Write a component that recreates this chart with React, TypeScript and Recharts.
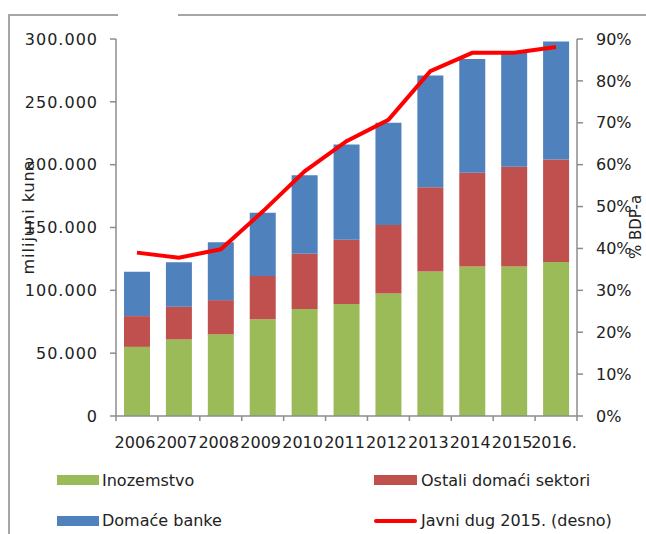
import React from 'react';
import { ComposedChart, Bar, Line, XAxis, YAxis } from 'recharts';

const years = ['2006', '2007', '2008', '2009', '2010', '2011', '2012', '2013', '2014', '2015', '2016.'];
const inozemstvo = [55000, 61000, 65000, 77000, 85200, 89200, 97500, 115000, 119000, 119000, 122500];
const ostaliDomaci = [24500, 26000, 27200, 34500, 43900, 51100, 54500, 67000, 74500, 79300, 81700];
const domaceBanke = [35300, 35300, 46100, 50300, 62500, 75800, 81400, 89000, 90500, 91700, 93800];
const javniDug = [39.0, 37.8, 39.8, 48.8, 58.4, 65.6, 70.7, 82.3, 86.7, 86.7, 88.1];
const leftTicks = [0, 50000, 100000, 150000, 200000, 250000, 300000];
const rightTicks = [0, 10, 20, 30, 40, 50, 60, 70, 80, 90];

const seriesNames = {
  ino: 'Inozemstvo',
  ost: 'Ostali domaći sektori',
  ban: 'Domaće banke',
  dug: 'Javni dug 2015. (desno)',
};

const data = years.map((y, i) => ({
  year: y,
  ino: inozemstvo[i],
  ost: ostaliDomaci[i],
  ban: domaceBanke[i],
  dug: javniDug[i],
}));

const FONT = '"DejaVu Sans", sans-serif';
const TEXT = '#222222';
const AXIS = '#8c8c8c';
const GREEN = '#9BBB59';
const RED = '#C0504D';
const BLUE = '#4F81BD';
const LINE = '#FF0000';

const fmtThousands = (n: number) =>
  n === 0 ? '0' : String(n).replace(/\B(?=(\d{3})+(?!\d))/g, '.');

const XTick = (props: any) => {
  const { x, y, payload, index } = props;
  const half = payload && payload.offset ? payload.offset : 20.95;
  return (
    <g>
      <line x1={x - half} y1={y} x2={x - half} y2={y + 5} stroke={AXIS} strokeWidth={1.5} />
      {index === years.length - 1 && (
        <line x1={x + half} y1={y} x2={x + half} y2={y + 5} stroke={AXIS} strokeWidth={1.5} />
      )}
      <text
        x={x - 2}
        y={y + 26}
        textAnchor="middle"
        dominantBaseline="central"
        fontFamily={FONT}
        fontSize={16}
        fill={TEXT}
      >
        {payload.value}
      </text>
    </g>
  );
};

const LeftLabel = () => (
  <text
    x={28}
    y={217}
    transform="rotate(-90 28 217)"
    textAnchor="middle"
    dominantBaseline="central"
    fontFamily={FONT}
    fontSize={16}
    letterSpacing={1}
    fill={TEXT}
  >
    milijuni kuna
  </text>
);

const RightLabel = () => (
  <text
    x={636}
    y={227}
    transform="rotate(-90 636 227)"
    textAnchor="middle"
    dominantBaseline="central"
    fontFamily={FONT}
    fontSize={15}
    fill={TEXT}
  >
    % BDP-a
  </text>
);

const legendText: React.CSSProperties = {
  position: 'absolute',
  fontFamily: FONT,
  fontSize: 16,
  color: TEXT,
  lineHeight: '20px',
  whiteSpace: 'nowrap',
};

export default function App() {
  return (
    <div
      style={{
        position: 'absolute',
        left: 0,
        top: 0,
        width: 646,
        height: 534,
        background: '#ffffff',
        overflow: 'hidden',
      }}
    >
      {/* frame */}
      <div style={{ position: 'absolute', left: 8, top: 14, width: 110, height: 2, background: '#a6a6a6' }} />
      <div style={{ position: 'absolute', left: 178, top: 14, width: 468, height: 2, background: '#a6a6a6' }} />
      <div style={{ position: 'absolute', left: 8, top: 14, width: 2, height: 520, background: '#a6a6a6' }} />

      <div style={{ position: 'absolute', left: 0, top: 0 }}>
        <ComposedChart
          width={646}
          height={534}
          data={data}
          margin={{ top: 39, right: 0, bottom: 88, left: 0 }}
        >
          <XAxis
            dataKey="year"
            xAxisId="x"
            height={30}
            interval={0}
            tickLine={false}
            tickSize={0}
            tickMargin={0}
            axisLine={{ stroke: AXIS, strokeWidth: 1.5 }}
            tick={<XTick />}
          />
          <YAxis
            yAxisId="left"
            width={116}
            domain={[0, 300000]}
            ticks={leftTicks}
            interval={0}
            tickFormatter={fmtThousands}
            tickSize={6}
            tickMargin={12}
            tickLine={{ stroke: AXIS, strokeWidth: 1.5 }}
            axisLine={{ stroke: AXIS, strokeWidth: 1.5 }}
            tick={{ fontFamily: FONT, fontSize: 16, fill: TEXT, letterSpacing: 1 }}
            label={{ content: () => <LeftLabel /> }}
          />
          <YAxis
            yAxisId="right"
            orientation="right"
            width={69}
            domain={[0, 90]}
            ticks={rightTicks}
            interval={0}
            tickFormatter={(v: number) => `${v}%`}
            tickSize={6}
            tickMargin={13}
            tickLine={{ stroke: AXIS, strokeWidth: 1.5 }}
            axisLine={{ stroke: AXIS, strokeWidth: 1.5 }}
            tick={{ fontFamily: FONT, fontSize: 16, fill: TEXT }}
            label={{ content: () => <RightLabel /> }}
          />
          <Bar dataKey="ino" name={seriesNames.ino} stackId="s" xAxisId="x" yAxisId="left" fill={GREEN} barSize={26} isAnimationActive={false} />
          <Bar dataKey="ost" name={seriesNames.ost} stackId="s" xAxisId="x" yAxisId="left" fill={RED} barSize={26} isAnimationActive={false} />
          <Bar dataKey="ban" name={seriesNames.ban} stackId="s" xAxisId="x" yAxisId="left" fill={BLUE} barSize={26} isAnimationActive={false} />
          <Line
            dataKey="dug"
            name={seriesNames.dug}
            xAxisId="x"
            yAxisId="right"
            type="linear"
            stroke={LINE}
            strokeWidth={4}
            dot={false}
            activeDot={false}
            isAnimationActive={false}
          />
        </ComposedChart>
      </div>

      {/* legend */}
      <div style={{ position: 'absolute', left: 57, top: 475, width: 42, height: 10, background: GREEN }} />
      <div style={{ ...legendText, left: 102, top: 471 }}>{seriesNames.ino}</div>
      <div style={{ position: 'absolute', left: 374, top: 475, width: 43, height: 10, background: RED }} />
      <div style={{ ...legendText, left: 421, top: 471 }}>{seriesNames.ost}</div>
      <div style={{ position: 'absolute', left: 57, top: 516, width: 42, height: 10, background: BLUE }} />
      <div style={{ ...legendText, left: 102, top: 511 }}>{seriesNames.ban}</div>
      <div style={{ position: 'absolute', left: 374, top: 519, width: 43, height: 4, borderRadius: 2, background: LINE }} />
      <div style={{ ...legendText, left: 421, top: 511 }}>{seriesNames.dug}</div>
    </div>
  );
}
